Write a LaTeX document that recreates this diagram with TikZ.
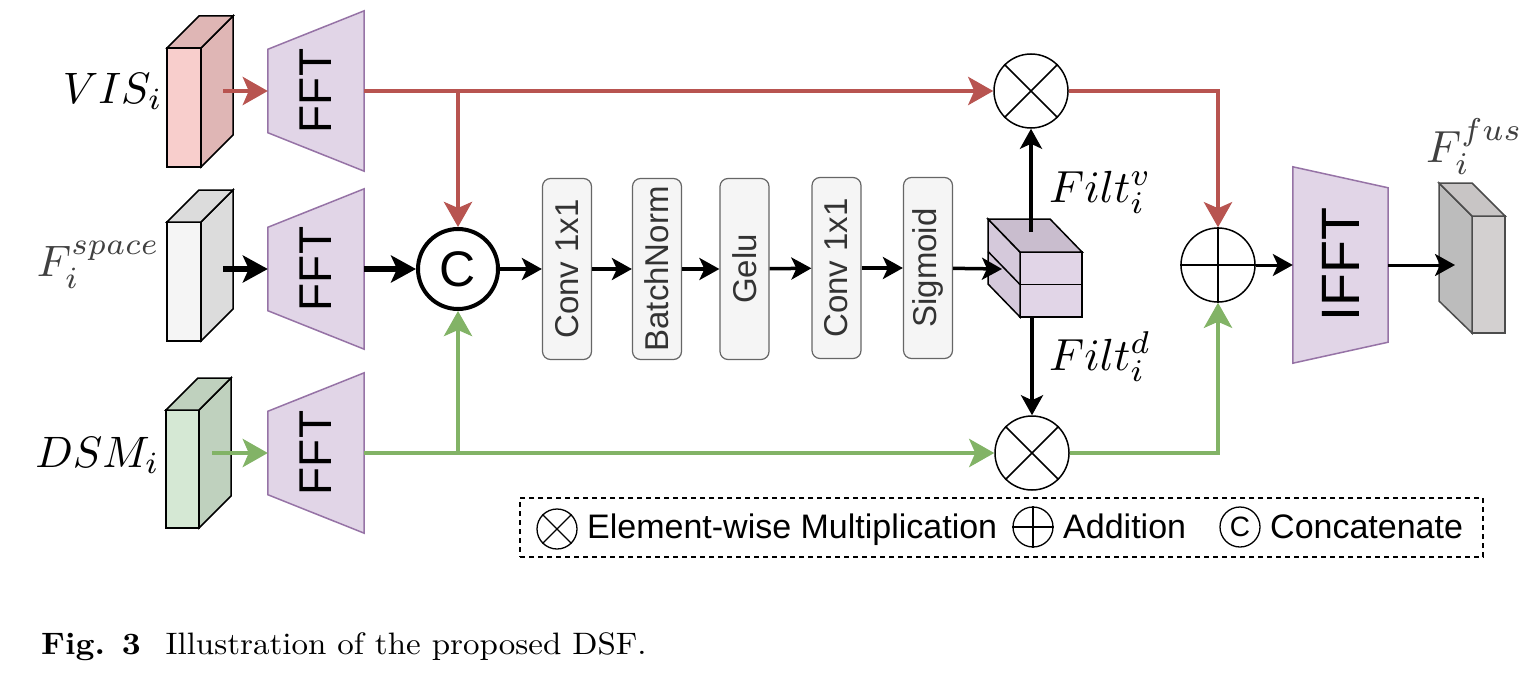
\documentclass[tikz,border=0pt]{standalone}
\usepackage{fontspec}
\usepackage{graphicx}
\usetikzlibrary{arrows.meta}
\usetikzlibrary{calc}
\usetikzlibrary{backgrounds}
\newfontfamily\arial{Liberation Sans}
\definecolor{visred}{HTML}{B85450}
\definecolor{dsmgreen}{HTML}{82B366}
\definecolor{fftfill}{HTML}{E1D5E7}
\definecolor{fftline}{HTML}{9673A6}
\definecolor{blkfill}{HTML}{F5F5F5}
\definecolor{blkline}{HTML}{666666}
\definecolor{blktext}{HTML}{333333}
\definecolor{lblgray}{HTML}{404040}
\definecolor{visfront}{HTML}{F8CECC}
\definecolor{visside}{HTML}{DFB6B5}
\definecolor{spcfront}{HTML}{F5F5F5}
\definecolor{spcside}{HTML}{DCDCDC}
\definecolor{dsmfront}{HTML}{D5E8D4}
\definecolor{dsmside}{HTML}{BFD1BE}
\definecolor{filtfront}{HTML}{E1D5E7}
\definecolor{filtleft}{HTML}{D5C9DB}
\definecolor{filttop}{HTML}{C9BDCE}
\definecolor{fusfront}{HTML}{D3D0D0}
\definecolor{fusleft}{HTML}{BCBCBC}
\definecolor{fustop}{HTML}{C8C5C5}
\tikzset{>={Stealth[length=20pt,width=22pt,inset=5pt]}}

\begin{document}
\begin{tikzpicture}[x=1pt,y=-1pt,
    fft/.style={minimum width=96pt,minimum height=160pt,inner sep=0pt,font=\arial\fontsize{46}{46}\selectfont},
    fftshape/.style={fill=fftfill,draw=fftline,line width=1.5pt},
    convblk/.style={draw=blkline,fill=blkfill,rounded corners=8pt,line width=1.2pt,minimum width=49pt,minimum height=181pt,inner sep=0pt,text=blktext,font=\arial\fontsize{33}{33}\selectfont},
    mulop/.style={circle,draw,line width=1.5pt,minimum size=74pt,inner sep=0pt},
    catop/.style={circle,draw,line width=4pt,minimum size=80pt,inner sep=0pt,font=\arial\fontsize{50}{50}\selectfont},
    slab/.style={draw,line width=1.5pt,inner sep=0pt,outer sep=0pt},
    redflow/.style={draw=visred,line width=4.5pt,-{Stealth[length=25pt,width=28pt,inset=6pt]}},
    greenflow/.style={draw=dsmgreen,line width=4.5pt,-{Stealth[length=25pt,width=28pt,inset=6pt]}},
    bigflow/.style={line width=6pt,-{Stealth[length=25pt,width=27pt,inset=6pt]}},
    flow/.style={line width=3.5pt,->},
    lbl/.style={inner sep=0pt},
    legtext/.style={inner sep=0pt,anchor=base west,font=\arial\fontsize{34}{34}\selectfont}]
    \useasboundingbox (0,0) rectangle (1533,693);

    % input cuboids
    \node[slab,fill=visfront,minimum width=34pt,minimum height=119pt] (vis) at (184,107.5) {};
    \draw[slab,fill=visside] (vis.north east) -- ++(32,-32) -- ($(vis.south east)+(32,-32)$) -- (vis.south east) -- cycle;
    \draw[slab,fill=visside] (vis.north west) -- ++(32,-32) -- ++(34,0) -- (vis.north east) -- cycle;
    \node[slab,fill=spcfront,minimum width=34pt,minimum height=119pt] (spc) at (184,281.5) {};
    \draw[slab,fill=spcside] (spc.north east) -- ++(32,-32) -- ($(spc.south east)+(32,-32)$) -- (spc.south east) -- cycle;
    \draw[slab,fill=spcside] (spc.north west) -- ++(32,-32) -- ++(34,0) -- (spc.north east) -- cycle;
    \node[slab,fill=dsmfront,minimum width=33pt,minimum height=118pt] (dsm) at (182.5,469) {};
    \draw[slab,fill=dsmside] (dsm.north east) -- ++(32,-32) -- ($(dsm.south east)+(32,-32)$) -- (dsm.south east) -- cycle;
    \draw[slab,fill=dsmside] (dsm.north west) -- ++(32,-32) -- ++(33,0) -- (dsm.north east) -- cycle;
    \coordinate (visout) at (223,91);
    \coordinate (spcout) at (223,269);
    \coordinate (dsmout) at (212,453);

    \node[lbl,anchor=base east] (vislbl) at (163,103) {\scalebox{4.4}{$VIS_i$}};
    \node[lbl,anchor=base east,text=lblgray] (spclbl) at (160,276) {\scalebox{4.4}{$F_i^{space}$}};
    \node[lbl,anchor=base east] (dsmlbl) at (160,467) {\scalebox{4.4}{$DSM_i$}};

    % transforms
    \node[fft] (fft1) at (316,91) {\rotatebox{90}{FFT}};
    \node[fft] (fft2) at (316,269) {\rotatebox{90}{FFT}};
    \node[fft] (fft3) at (316,453) {\rotatebox{90}{FFT}};
    \node[fft,minimum width=95pt,minimum height=196pt,font=\arial\fontsize{54}{54}\selectfont] (ifft) at (1340.5,265) {\rotatebox{90}{IFFT}};
    \begin{scope}[on background layer]
        \fill[white] (0,0) rectangle (1533,693);
        \foreach \n in {fft1,fft2,fft3}
            \draw[fftshape] ($(\n.north west)+(0,38.5)$) -- (\n.north east) -- (\n.south east) -- ($(\n.south west)+(0,-38.5)$) -- cycle;
        \draw[fftshape] (ifft.north west) -- ($(ifft.north east)+(0,21)$) -- ($(ifft.south east)+(0,-21)$) -- (ifft.south west) -- cycle;
    \end{scope}

    % filter branch
    \node[catop] (cat) at (458,269) {C};
    \node[convblk] (conv1) at (567,269) {\rotatebox{90}{Conv 1x1}};
    \node[convblk] (bn) at (657,269) {\rotatebox{90}{BatchNorm}};
    \node[convblk] (gelu) at (744.5,269) {\rotatebox{90}{Gelu}};
    \node[convblk] (conv2) at (836.5,268) {\rotatebox{90}{Conv 1x1}};
    \node[convblk] (sig) at (928,268) {\rotatebox{90}{Sigmoid}};

    \node[slab,fill=filtfront,minimum width=62pt,minimum height=65pt] (filt) at (1051,284.5) {};
    \draw[slab] (filt.west) -- (filt.east);
    \draw[slab,fill=filtleft] (filt.north west) -- ++(-32,-33) -- ($(filt.south west)+(-32,-33)$) -- (filt.south west) -- cycle;
    \draw[slab] (filt.west) -- ++(-32,-33);
    \draw[slab,fill=filttop] (filt.north west) -- ++(-32,-33) -- ++(62,0) -- (filt.north east) -- cycle;
    \coordinate (filtin) at (1002,269);
    \coordinate (filtup) at (1031,232);
    \coordinate (filtdown) at (1032,317);
    \node[lbl,anchor=base west] (filtv) at (1049,202) {\scalebox{4.5}{$Filt_i^v$}};
    \node[lbl,anchor=base west] (filtd) at (1049,370) {\scalebox{4.5}{$Filt_i^d$}};

    % operators
    \node[mulop] (mul1) at (1031,91) {};
    \draw[line width=1.5pt] (mul1.north east) -- (mul1.south west) (mul1.north west) -- (mul1.south east);
    \node[mulop] (mul2) at (1032,453) {};
    \draw[line width=1.5pt] (mul2.north east) -- (mul2.south west) (mul2.north west) -- (mul2.south east);
    \node[mulop] (add) at (1218,265) {};
    \draw[line width=1.5pt] (add.north) -- (add.south) (add.west) -- (add.east);

    % output cuboid
    \node[slab,draw=black!70,fill=fusfront,minimum width=33pt,minimum height=117pt] (fus) at (1488.5,274.5) {};
    \draw[slab,draw=black!70,fill=fusleft] (fus.north west) -- ++(-33,-33) -- ($(fus.south west)+(-33,-32)$) -- (fus.south west) -- cycle;
    \draw[slab,draw=black!70,fill=fustop] (fus.north west) -- ++(-33,-33) -- ++(33,0) -- (fus.north east) -- cycle;
    \coordinate (fusin) at (1455,265);
    \node[lbl,anchor=base west,text=lblgray] (fuslbl) at (1426,162) {\scalebox{4.5}{$F_i^{fus}$}};

    % connectors
    \draw[redflow] (visout) -- (fft1.west);
    \draw[bigflow] (spcout) -- (fft2.west);
    \draw[greenflow] (dsmout) -- (fft3.west);
    \draw[redflow] (fft1.east) -- (mul1);
    \draw[redflow] (fft1.east -| cat) -- (cat);
    \draw[greenflow] (fft3.east) -- (mul2);
    \draw[greenflow] (fft3.east -| cat) -- (cat);
    \draw[bigflow] (fft2.east) -- (cat);
    \draw[flow] (cat) -- (conv1);
    \draw[flow] (conv1) -- (bn);
    \draw[flow] (bn) -- (gelu);
    \draw[flow] (gelu) -- (conv2);
    \draw[flow] (conv2) -- (sig);
    \draw[flow] (sig) -- (filtin);
    \draw[flow] (filtup) -- (mul1);
    \draw[flow] (filtdown) -- (mul2);
    \draw[redflow] (mul1) -| (add);
    \draw[greenflow] (mul2) -| (add);
    \draw[flow,line width=3pt] (add) -- (ifft.west);
    \draw[flow,line width=3pt] (ifft.east) -- (fusin);

    % legend
    \node[draw,line width=1.2pt,dash pattern=on 5pt off 4pt,minimum width=963pt,minimum height=59pt,inner sep=0pt] (legend) at (1001.5,527.5) {};
    \node[mulop,minimum size=40pt,line width=1.3pt] (lmul) at (557,529) {};
    \draw[line width=1.3pt] (lmul.north east) -- (lmul.south west) (lmul.north west) -- (lmul.south east);
    \node[legtext] (lmultxt) at (587,538) {Element-wise Multiplication};
    \node[mulop,minimum size=40pt,line width=1.3pt] (ladd) at (1033,527) {};
    \draw[line width=1.3pt] (ladd.north) -- (ladd.south) (ladd.west) -- (ladd.east);
    \node[legtext] (laddtxt) at (1063,538) {Addition};
    \node[circle,draw,line width=1.3pt,minimum size=40pt,inner sep=0pt,font=\arial\fontsize{28}{28}\selectfont] (lcat) at (1240,527) {C};
    \node[legtext] (lcattxt) at (1270,538) {Concatenate};

    \node[anchor=base west,inner sep=0pt] (caption) at (41,654) {\scalebox{3.3}[3.1]{\textbf{Fig. 3}\hspace{7.5pt}Illustration of the proposed DSF.}};
\end{tikzpicture}
\end{document}
